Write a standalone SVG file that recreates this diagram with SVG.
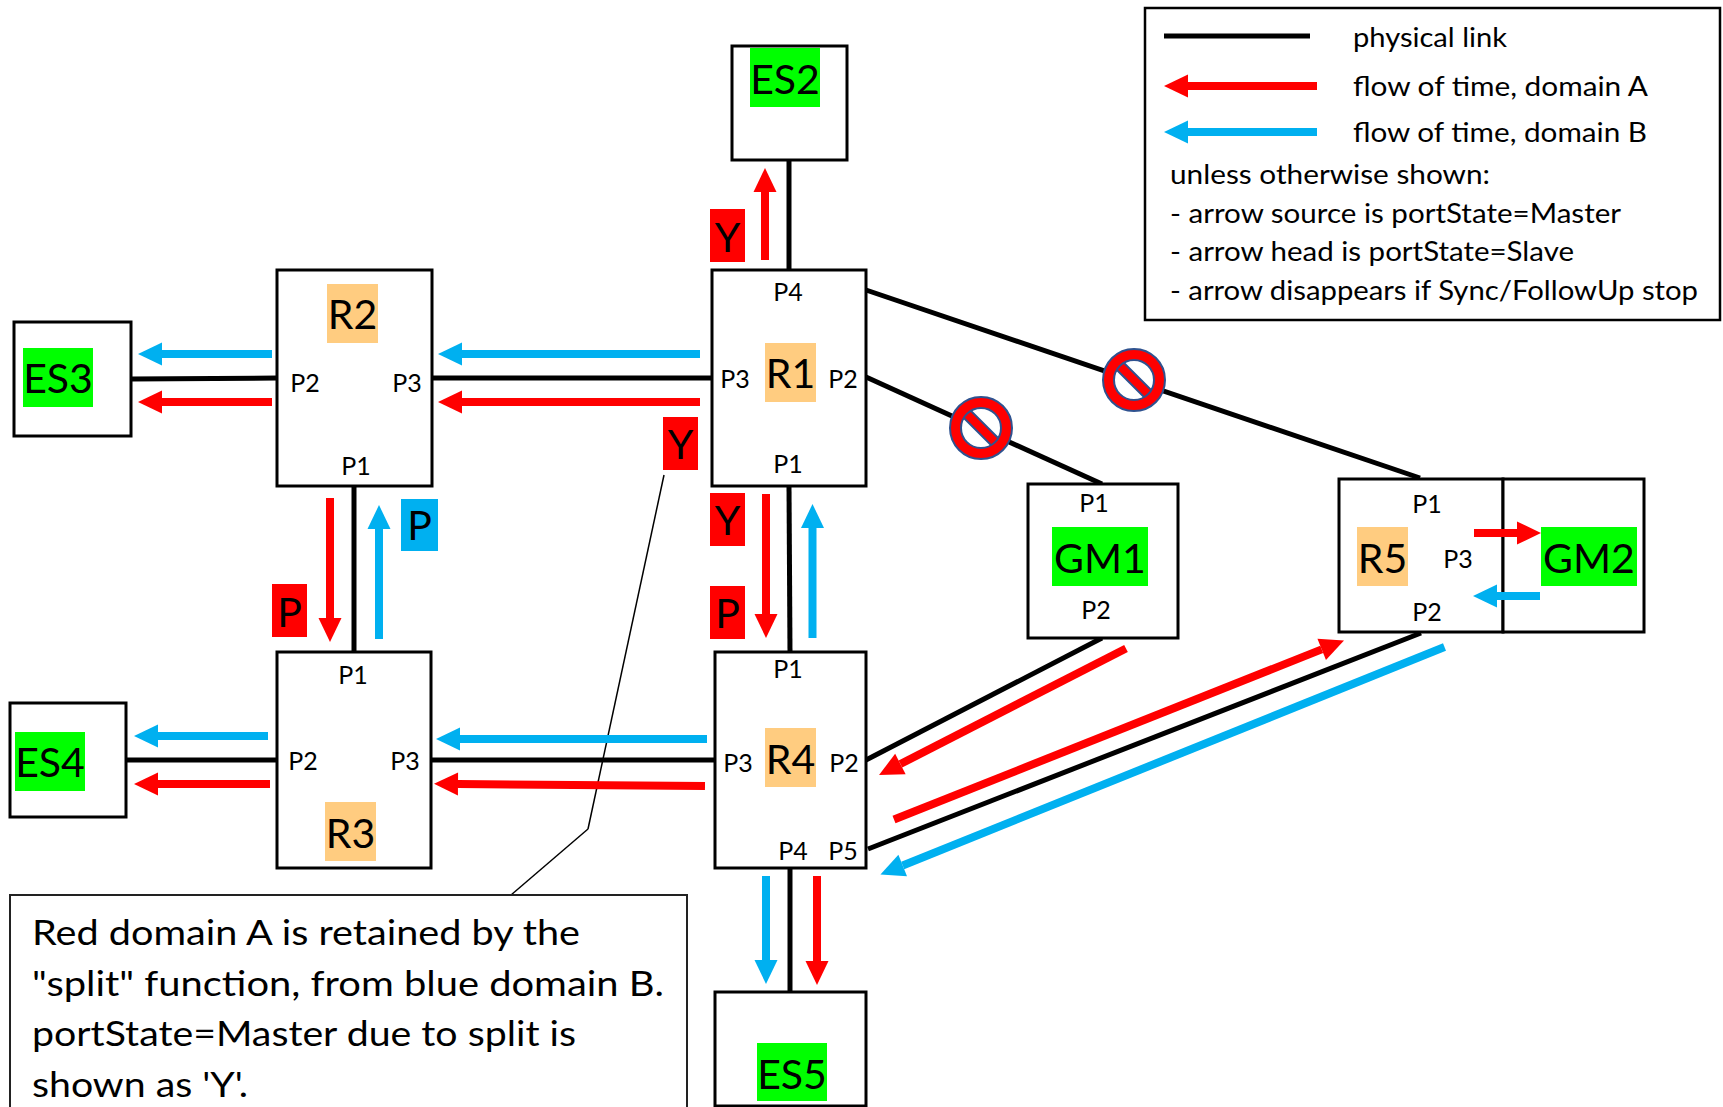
<svg xmlns="http://www.w3.org/2000/svg" xmlns:xlink="http://www.w3.org/1999/xlink" width="1723" height="1107" viewBox="0 0 1723 1107">
<style>
text{font-family:Lato,"Liberation Sans",sans-serif;fill:#000}
.box{fill:#fff;stroke:#000;stroke-width:3}
.link{stroke:#000;stroke-width:5;fill:none}
.ra{stroke:#FF0000;stroke-width:8;fill:none;marker-end:url(#hr)}
.ba{stroke:#00B0F0;stroke-width:8;fill:none;marker-end:url(#hb)}
.port{font-size:25px;text-anchor:middle}
.big{font-size:41px;text-anchor:middle}
.green{fill:#00FF00}
.orange{fill:#FFCC80}
.redbg{fill:#FF0000}
.bluebg{fill:#00B0F0}
.leg{font-size:26px}
.note{font-size:35px}
</style>
<defs>
<marker id="hr" markerUnits="userSpaceOnUse" markerWidth="30" markerHeight="30" refX="0" refY="0" viewBox="0 -15 30 30" orient="auto" overflow="visible"><path d="M0,-11.5 L24,0 L0,11.5 z" fill="#FF0000"/></marker>
<marker id="hb" markerUnits="userSpaceOnUse" markerWidth="30" markerHeight="30" refX="0" refY="0" viewBox="0 -15 30 30" orient="auto" overflow="visible"><path d="M0,-11.5 L24,0 L0,11.5 z" fill="#00B0F0"/></marker>
<g id="noentry">
<circle r="20" fill="#fff"/>
<rect x="-21" y="-5" width="42" height="10" transform="rotate(45)" fill="#FF0000" stroke="#2F528F" stroke-width="2"/>
<path d="M31,0 A31,31 0 1,0 -31,0 A31,31 0 1,0 31,0 Z M20,0 A20,20 0 1,1 -20,0 A20,20 0 1,1 20,0 Z" fill="#FF0000" fill-rule="evenodd" stroke="#2F528F" stroke-width="2"/>
</g>
</defs>
<rect width="1723" height="1107" fill="#fff"/>

<g id="connectors">
<line class="link" x1="789" y1="160" x2="789" y2="270"/>
<line class="link" x1="131" y1="379" x2="277" y2="378"/>
<line class="link" x1="432" y1="378" x2="712" y2="378"/>
<line class="link" x1="354" y1="486" x2="354" y2="652"/>
<line class="link" x1="789" y1="486" x2="790" y2="652"/>
<line class="link" x1="126" y1="760" x2="277" y2="760"/>
<line class="link" x1="431" y1="760" x2="715" y2="760"/>
<line class="link" x1="790" y1="868" x2="790" y2="992"/>
<line class="link" x1="866" y1="290" x2="1420" y2="478"/>
<line class="link" x1="866" y1="377" x2="1102" y2="484"/>
<line class="link" x1="866" y1="760" x2="1102" y2="638"/>
<line class="link" x1="868" y1="849" x2="1421" y2="633"/>
<line class="link" x1="1484" y1="559" x2="1541" y2="559"/>
<line x1="664" y1="475" x2="588" y2="829" stroke="#000" stroke-width="1.5"/>
<line x1="588" y1="829" x2="511" y2="895" stroke="#000" stroke-width="1.5"/>
</g>

<g id="ES2"><rect class="box" x="732" y="46" width="115" height="114"/><rect class="green" x="750" y="48" width="70" height="59"/><text class="big" x="785" y="94">ES2</text></g>
<g id="R1"><rect class="box" x="712" y="270" width="154" height="216"/><rect class="orange" x="765" y="343" width="51" height="59"/><text class="big" x="790.5" y="388">R1</text>
<text class="port" x="788" y="301">P4</text><text class="port" x="735" y="388">P3</text><text class="port" x="843" y="388">P2</text><text class="port" x="788" y="473">P1</text></g>
<g id="R2"><rect class="box" x="277" y="270" width="155" height="216"/><rect class="orange" x="327" y="284" width="51" height="59"/><text class="big" x="352.5" y="329">R2</text>
<text class="port" x="305" y="392">P2</text><text class="port" x="407" y="392">P3</text><text class="port" x="356" y="475">P1</text></g>
<g id="ES3"><rect class="box" x="14" y="322" width="117" height="114"/><rect class="green" x="23" y="348" width="70" height="59"/><text class="big" x="58" y="393">ES3</text></g>
<g id="R3"><rect class="box" x="277" y="652" width="154" height="216"/><rect class="orange" x="325" y="802" width="51" height="59"/><text class="big" x="350.5" y="848">R3</text>
<text class="port" x="353" y="684">P1</text><text class="port" x="303" y="770">P2</text><text class="port" x="405" y="770">P3</text></g>
<g id="ES4"><rect class="box" x="10" y="703" width="116" height="114"/><rect class="green" x="15" y="732" width="70" height="59"/><text class="big" x="50" y="777">ES4</text></g>
<g id="R4"><rect class="box" x="715" y="652" width="151" height="216"/><rect class="orange" x="765" y="728" width="51" height="59"/><text class="big" x="790.5" y="774">R4</text>
<text class="port" x="788" y="678">P1</text><text class="port" x="738" y="772">P3</text><text class="port" x="844" y="772">P2</text><text class="port" x="793" y="860">P4</text><text class="port" x="843" y="860">P5</text></g>
<g id="ES5"><rect class="box" x="715" y="992" width="151" height="114"/><rect class="green" x="757" y="1043" width="70" height="58"/><text class="big" x="792" y="1089">ES5</text></g>
<g id="GM1"><rect class="box" x="1028" y="484" width="150" height="154"/><rect class="green" x="1052" y="527" width="96" height="59"/><text class="big" x="1100" y="573">GM1</text>
<text class="port" x="1094" y="512">P1</text><text class="port" x="1096" y="619">P2</text></g>
<g id="R5"><rect class="box" x="1339" y="479" width="164" height="153"/><rect class="orange" x="1357" y="527" width="51" height="59"/><text class="big" x="1382.5" y="573">R5</text>
<text class="port" x="1427" y="513">P1</text><text class="port" x="1458" y="568">P3</text><text class="port" x="1427" y="621">P2</text></g>
<g id="GM2"><rect class="box" x="1503" y="479" width="141" height="153"/><rect class="green" x="1541" y="527" width="96" height="59"/><text class="big" x="1589" y="573">GM2</text></g>

<g id="arrows">
<line class="ba" x1="272" y1="354" x2="162" y2="354"/>
<line class="ra" x1="272" y1="402" x2="162" y2="402"/>
<line class="ba" x1="700" y1="354" x2="462" y2="354"/>
<line class="ra" x1="700" y1="402" x2="462" y2="402"/>
<line class="ba" x1="268" y1="736" x2="158" y2="736"/>
<line class="ra" x1="270" y1="784" x2="158" y2="784"/>
<line class="ba" x1="707" y1="739" x2="460" y2="739"/>
<line class="ra" x1="705" y1="786" x2="458" y2="784"/>
<line class="ra" x1="765" y1="260" x2="765" y2="192"/>
<line class="ra" x1="330" y1="498" x2="330" y2="618"/>
<line class="ba" x1="379" y1="639" x2="379" y2="529"/>
<line class="ra" x1="766" y1="494" x2="766" y2="614"/>
<line class="ba" x1="812.5" y1="638" x2="812.5" y2="528"/>
<line class="ba" x1="766" y1="876" x2="766" y2="960"/>
<line class="ra" x1="817" y1="876" x2="817" y2="961"/>
<line class="ra" x1="1474" y1="533" x2="1517" y2="533"/>
<line class="ba" x1="1540" y1="596" x2="1497" y2="596"/>
<line class="ra" x1="1126" y1="648.5" x2="900.4" y2="764"/>
<line class="ra" x1="894" y1="819.5" x2="1321.7" y2="649.4"/>
<line class="ba" x1="1444.5" y1="647" x2="902.7" y2="865.5"/>
</g>

<g id="labels">
<rect class="redbg" x="710" y="209" width="35" height="53"/><text class="big" x="727.5" y="252">Y</text>
<rect class="redbg" x="663" y="417" width="35" height="53"/><text class="big" x="680.5" y="459">Y</text>
<rect class="redbg" x="710" y="493" width="35" height="53"/><text class="big" x="727.5" y="535">Y</text>
<rect class="redbg" x="710" y="586" width="35" height="53"/><text class="big" x="727.5" y="628">P</text>
<rect class="redbg" x="272" y="584" width="35" height="53"/><text class="big" x="289.5" y="627">P</text>
<rect class="bluebg" x="401" y="499" width="37" height="52"/><text class="big" x="419.5" y="540">P</text>
</g>

<g id="blocked">
<use xlink:href="#noentry" x="981" y="428"/>
<use xlink:href="#noentry" x="1134" y="380"/>
</g>

<g id="legend">
<rect x="1145" y="8" width="575" height="312" fill="#fff" stroke="#000" stroke-width="2.5"/>
<line x1="1164" y1="36" x2="1310" y2="36" stroke="#000" stroke-width="5"/>
<line class="ra" x1="1317" y1="86" x2="1188" y2="86"/>
<line class="ba" x1="1317" y1="132" x2="1188" y2="132"/>
<text class="leg" x="1353" y="47" textLength="154" lengthAdjust="spacingAndGlyphs">physical link</text>
<text class="leg" x="1353" y="96" textLength="295" lengthAdjust="spacingAndGlyphs">flow of time, domain A</text>
<text class="leg" x="1353" y="142" textLength="294" lengthAdjust="spacingAndGlyphs">flow of time, domain B</text>
<text class="leg" x="1170" y="184" textLength="320" lengthAdjust="spacingAndGlyphs">unless otherwise shown:</text>
<text class="leg" x="1170" y="223" textLength="451" lengthAdjust="spacingAndGlyphs">- arrow source is portState=Master</text>
<text class="leg" x="1170" y="261" textLength="404" lengthAdjust="spacingAndGlyphs">- arrow head is portState=Slave</text>
<text class="leg" x="1170" y="300" textLength="528" lengthAdjust="spacingAndGlyphs">- arrow disappears if Sync/FollowUp stop</text>
</g>

<g id="callout">
<rect x="10" y="895" width="677" height="220" fill="#fff" stroke="#222" stroke-width="2"/>
<text class="note" x="32" y="945" textLength="548" lengthAdjust="spacingAndGlyphs">Red domain A is retained by the</text>
<text class="note" x="32" y="996" textLength="632" lengthAdjust="spacingAndGlyphs">"split" function, from blue domain B.</text>
<text class="note" x="32" y="1046" textLength="544" lengthAdjust="spacingAndGlyphs">portState=Master due to split is</text>
<text class="note" x="32" y="1097" textLength="216" lengthAdjust="spacingAndGlyphs">shown as 'Y'.</text>
</g>
</svg>
